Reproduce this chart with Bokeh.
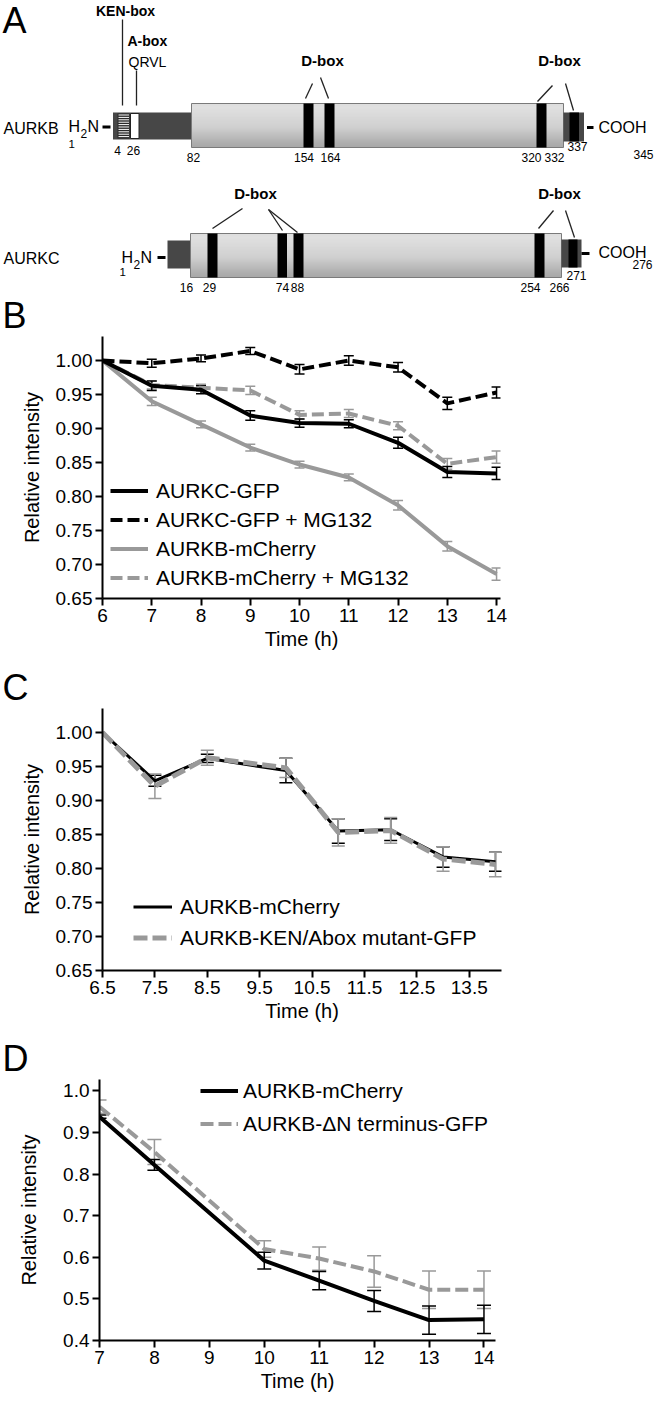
import numpy as np
from bokeh.plotting import figure
from bokeh.models import (Range1d, ColumnDataSource, Whisker, TeeHead, Legend, LegendItem,
                          FixedTicker, NumeralTickFormatter)
from bokeh.embed import file_html
from bokeh.resources import INLINE
from bokeh.core.properties import value

FONT = "Liberation Sans"
BLACK = "#000000"
GRAY = "#999999"
DARK = "#474747"
W = 654

# ======================= DATA =======================
# Panel A: domain maps
aurkb_name = "AURKB"
aurkc_name = "AURKC"
aurkb_residue_labels = ["4", "26", "82", "154", "164", "320", "332", "337", "345"]
aurkc_residue_labels = ["16", "29", "74", "88", "254", "266", "271", "276"]
motif_labels = ["KEN-box", "A-box", "QRVL", "D-box"]
panel_letters = ["A", "B", "C", "D"]

# Panel B
b_time = [6, 7, 8, 9, 10, 11, 12, 13, 14]
b_aurkc = [1.000, 0.963, 0.957, 0.919, 0.908, 0.907, 0.879, 0.836, 0.834]
b_aurkc_err = [0.0, 0.007, 0.006, 0.007, 0.006, 0.006, 0.008, 0.008, 0.009]
b_aurkc_mg = [1.000, 0.996, 1.003, 1.014, 0.987, 1.000, 0.990, 0.937, 0.953]
b_aurkc_mg_err = [0.0, 0.006, 0.005, 0.005, 0.007, 0.007, 0.007, 0.009, 0.008]
b_aurkb = [1.000, 0.940, 0.906, 0.872, 0.847, 0.828, 0.787, 0.727, 0.686]
b_aurkb_err = [0.0, 0.006, 0.005, 0.005, 0.005, 0.005, 0.007, 0.007, 0.009]
b_aurkb_mg = [1.000, 0.964, 0.960, 0.956, 0.920, 0.922, 0.904, 0.848, 0.858]
b_aurkb_mg_err = [0.0, 0.006, 0.005, 0.006, 0.006, 0.006, 0.006, 0.008, 0.009]
b_labels = ["AURKC-GFP", "AURKC-GFP + MG132", "AURKB-mCherry", "AURKB-mCherry + MG132"]
b_xticks = [6, 7, 8, 9, 10, 11, 12, 13, 14]
b_yticks = [0.65, 0.70, 0.75, 0.80, 0.85, 0.90, 0.95, 1.00]

# Panel C
c_time = [6.5, 7.5, 8.5, 10, 11, 12, 13, 14]
c_aurkb = [1.000, 0.929, 0.962, 0.944, 0.855, 0.857, 0.817, 0.810]
c_aurkb_err = [0.0, 0.008, 0.006, 0.018, 0.018, 0.016, 0.015, 0.014]
c_mut = [1.000, 0.921, 0.963, 0.948, 0.853, 0.856, 0.814, 0.806]
c_mut_err = [0.0, 0.018, 0.011, 0.014, 0.020, 0.019, 0.018, 0.018]
c_labels = ["AURKB-mCherry", "AURKB-KEN/Abox mutant-GFP"]
c_xticks = [6.5, 7.5, 8.5, 9.5, 10.5, 11.5, 12.5, 13.5]
c_yticks = [0.65, 0.70, 0.75, 0.80, 0.85, 0.90, 0.95, 1.00]

# Panel D
d_time = [7, 8, 10, 11, 12, 13, 14]
d_aurkb = [0.938, 0.822, 0.592, 0.544, 0.495, 0.449, 0.451]
d_aurkb_err = [0.004, 0.013, 0.020, 0.022, 0.025, 0.034, 0.034]
d_dn = [0.962, 0.853, 0.620, 0.597, 0.566, 0.522, 0.522]
d_dn_err = [0.016, 0.030, 0.020, 0.028, 0.038, 0.045, 0.045]
d_labels = ["AURKB-mCherry", "AURKB-\u0394N terminus-GFP"]
d_xticks = [7, 8, 9, 10, 11, 12, 13, 14]
d_yticks = [0.4, 0.5, 0.6, 0.7, 0.8, 0.9, 1.0]


# ======================= HELPERS =======================
def canvas(h):
    p = figure(width=W, height=h, x_range=Range1d(0, W), y_range=Range1d(h, 0),
               output_backend="svg", toolbar_location=None, min_border=0,
               x_axis_location=None, y_axis_location=None)
    p.grid.visible = False
    p.outline_line_color = None
    return p


def txt(p, xs, ys, texts, size, align="center", bold=False, baseline="middle"):
    p.text(x=xs, y=ys, text=texts, text_font=value(FONT), text_font_size=size,
           text_align=align, text_baseline=baseline, text_color=BLACK,
           text_font_style="bold" if bold else "normal")


# ======================= PANEL A (diagram, page-pixel layout) =======================
pa = canvas(336)


def quad(l, r, t, b, color, line_color=None, lw=1):
    pa.quad(left=[l], right=[r], top=[t], bottom=[b], fill_color=color,
            line_color=line_color, line_width=lw)


def cylinder(l, r, t, b):
    n = 44
    edges = np.linspace(t, b, n + 1)
    f = (np.arange(n) + 0.5) / n
    shade = np.interp(f, [0, 0.1, 0.55, 0.88, 1.0], [210, 214, 192, 150, 138])
    cols = ["#%02x%02x%02x" % (int(s), int(s), int(s)) for s in shade]
    pa.quad(left=l, right=r, top=edges[:-1], bottom=edges[1:], fill_color=cols, line_color=None)
    pa.quad(left=[l], right=[r], top=[t], bottom=[b], fill_color=None, line_color="#7a7a7a", line_width=1)


def seg(x0, y0, x1, y1, lw=1.3, color="#222222"):
    pa.segment(x0=x0, y0=y0, x1=x1, y1=y1, line_color=color, line_width=lw)


# panel letters A and B
txt(pa, [2], [20], [panel_letters[0]], "36px", align="left")
txt(pa, [2], [315], [panel_letters[1]], "36px", align="left")

# ---- AURKB row
txt(pa, [3], [128], [aurkb_name], "16px", align="left")
txt(pa, [68, 87], [126, 126], ["H", "N"], "16px", align="left")
txt(pa, [80], [133], ["2"], "12px", align="left")
txt(pa, [68], [143], ["1"], "11.5px", align="left")
seg([102], [126.5], [110], [126.5], lw=3, color=BLACK)
quad(112.5, 191, 112, 139, DARK)
quad(117, 129, 113, 138, "#2a2a2a")
ys = list(np.arange(114.5, 138, 2.4))
seg([118] * len(ys), ys, [128.5] * len(ys), ys, lw=1, color="white")
quad(130, 138.5, 113, 138, "white", line_color="#222222", lw=1)
cylinder(191, 563, 103, 147)
for l, r in [(303, 313), (324, 334), (536, 546)]:
    quad(l, r, 103, 147, BLACK)
quad(563, 583.5, 112, 141, DARK)
quad(569, 578.5, 112, 141, BLACK)
seg([586.5], [127], [593], [127], lw=3, color=BLACK)
txt(pa, [598], [127], ["COOH"], "16px", align="left")
txt(pa, [117, 133], [150, 150], aurkb_residue_labels[0:2], "12px")
txt(pa, [193, 303.5, 330, 531, 554], [157] * 5, aurkb_residue_labels[2:7], "12px")
txt(pa, [577], [146], [aurkb_residue_labels[7]], "12px")
txt(pa, [643], [154], [aurkb_residue_labels[8]], "12px")
# motifs
txt(pa, [125], [10], [motif_labels[0]], "14px", bold=True)
seg([122], [19], [122], [105])
txt(pa, [127], [40], [motif_labels[1]], "14px", align="left", bold=True)
txt(pa, [128], [61], [motif_labels[2]], "14px", align="left")
seg([136], [70], [136], [105])
txt(pa, [322, 559], [60, 60], [motif_labels[3]] * 2, "15px", bold=True)
seg([312, 320, 552, 565], [83, 77, 85, 83], [305, 328, 537, 573], [98, 98, 101, 110])

# ---- AURKC row
txt(pa, [3], [258], [aurkc_name], "16px", align="left")
txt(pa, [121, 140], [257, 257], ["H", "N"], "16px", align="left")
txt(pa, [133], [264], ["2"], "12px", align="left")
txt(pa, [119], [271], ["1"], "11.5px", align="left")
seg([157], [257], [165], [257], lw=3, color=BLACK)
quad(167, 190.5, 240, 268, DARK)
cylinder(190, 561, 233, 277)
for l, r in [(207, 217), (277, 286.5), (293, 303), (534, 544)]:
    quad(l, r, 233, 277, BLACK)
quad(561, 581, 239, 267, DARK)
quad(568, 577, 239, 267, BLACK)
seg([581], [253], [589], [253], lw=3, color=BLACK)
txt(pa, [598], [252], ["COOH"], "16px", align="left")
txt(pa, [186, 209, 282, 297, 530, 559], [287] * 6, aurkc_residue_labels[0:6], "12px")
txt(pa, [576], [275], [aurkc_residue_labels[6]], "12px")
txt(pa, [642], [264], [aurkc_residue_labels[7]], "12px")
txt(pa, [255, 559], [193, 193], [motif_labels[3]] * 2, "15px", bold=True)
seg([242, 268, 268, 553, 565], [208, 209, 209, 210, 210], [212, 282, 297, 538, 574], [228, 230, 232, 228, 237])


# ======================= CHART HELPERS =======================
def make_chart(height, xr, yr, borders, xticks, yticks, xfmt, yfmt, ylab_standoff):
    p = figure(width=W, height=height, x_range=Range1d(*xr), y_range=Range1d(*yr),
               output_backend="svg", toolbar_location=None,
               min_border_left=borders[0], min_border_right=borders[1],
               min_border_top=borders[2], min_border_bottom=borders[3])
    p.grid.visible = False
    p.outline_line_color = None
    for ax in (p.xaxis[0], p.yaxis[0]):
        ax.axis_line_width = 2
        ax.axis_line_color = BLACK
        ax.major_tick_line_width = 2
        ax.major_tick_line_color = BLACK
        ax.major_tick_in = 0
        ax.major_tick_out = 7
        ax.minor_tick_line_color = None
        ax.major_label_text_font = FONT
        ax.major_label_text_font_size = "19px"
        ax.major_label_text_color = BLACK
        ax.major_label_standoff = 3
        ax.axis_label_text_font = FONT
        ax.axis_label_text_font_size = "20px"
        ax.axis_label_text_font_style = "normal"
        ax.axis_label_text_color = BLACK
    p.xaxis.ticker = FixedTicker(ticks=xticks)
    p.yaxis.ticker = FixedTicker(ticks=yticks)
    p.xaxis.formatter = NumeralTickFormatter(format=xfmt)
    p.yaxis.formatter = NumeralTickFormatter(format=yfmt)
    p.xaxis.axis_label = "Time (h)"
    p.yaxis.axis_label = "Relative intensity"
    p.xaxis.axis_label_standoff = 3
    p.yaxis.axis_label_standoff = ylab_standoff
    return p


def errbars(p, x, y, e, color, size, lw=1.5):
    xs, lo, hi = [], [], []
    for xi, yi, ei in zip(x, y, e):
        if ei > 0:
            xs.append(xi)
            lo.append(yi - ei)
            hi.append(yi + ei)
    src = ColumnDataSource(dict(x=xs, lo=lo, hi=hi))
    w = Whisker(source=src, base="x", lower="lo", upper="hi", line_color=color, line_width=lw,
                upper_head=TeeHead(size=size, line_color=color, line_width=lw),
                lower_head=TeeHead(size=size, line_color=color, line_width=lw))
    p.add_layout(w)


def add_legend(p, items, loc, glyph_w, row_h, standoff):
    leg = Legend(items=[LegendItem(label=l, renderers=[r]) for l, r in items],
                 location=loc, padding=0, margin=0, spacing=0,
                 glyph_width=glyph_w, glyph_height=row_h, label_height=row_h,
                 label_standoff=standoff, label_text_font=FONT, label_text_font_size="21px",
                 label_text_color=BLACK, border_line_color=None, background_fill_alpha=0)
    p.add_layout(leg)


# ======================= PANEL B =======================
pb = make_chart(324, (6, 14.0353), (0.65, 1.0353), (102, 154, 0, 62),
                b_xticks, b_yticks, "0", "0.00", 10)
pb.x_range = Range1d(6, 14.08)
errbars(pb, b_time, b_aurkb, b_aurkb_err, GRAY, 10)
errbars(pb, b_time, b_aurkb_mg, b_aurkb_mg_err, GRAY, 10)
errbars(pb, b_time, b_aurkc, b_aurkc_err, BLACK, 10)
errbars(pb, b_time, b_aurkc_mg, b_aurkc_mg_err, BLACK, 10)
rb3 = pb.line(b_time, b_aurkb, line_color=GRAY, line_width=4)
rb4 = pb.line(b_time, b_aurkb_mg, line_color=GRAY, line_width=4, line_dash="12 5")
rb1 = pb.line(b_time, b_aurkc, line_color=BLACK, line_width=4)
rb2 = pb.line(b_time, b_aurkc_mg, line_color=BLACK, line_width=4, line_dash="12 5")
add_legend(pb, list(zip(b_labels, [rb1, rb2, rb3, rb4])), (8, 6), 38, 29, 8)

# ---- strip with letter C
sc = canvas(48)
txt(sc, [2], [27], [panel_letters[2]], "36px", align="left")

# ======================= PANEL C =======================
pc = make_chart(329, (6.5, 14.115), (0.65, 1.0353), (102, 153, 0, 67),
                c_xticks, c_yticks, "0.0", "0.00", 10)
errbars(pc, c_time, c_aurkb, c_aurkb_err, BLACK, 13)
errbars(pc, c_time, c_mut, c_mut_err, GRAY, 13)
rc1 = pc.line(c_time, c_aurkb, line_color=BLACK, line_width=3)
rc2 = pc.line(c_time, c_mut, line_color=GRAY, line_width=5, line_dash="14 5")
add_legend(pc, list(zip(c_labels, [rc1, rc2])), (31, 17), 39, 31, 8)

# ---- strip with letter D
sd = canvas(42)
txt(sd, [2], [21], [panel_letters[3]], "36px", align="left")

# ======================= PANEL D =======================
pd_ = make_chart(325, (7, 14.21), (0.4, 1.0274), (99, 159, 0, 64),
                 d_xticks, d_yticks, "0", "0.0", 20)
errbars(pd_, d_time, d_dn, d_dn_err, GRAY, 14)
errbars(pd_, d_time, d_aurkb, d_aurkb_err, BLACK, 14)
rd2 = pd_.line(d_time, d_dn, line_color=GRAY, line_width=4, line_dash="13 5")
rd1 = pd_.line(d_time, d_aurkb, line_color=BLACK, line_width=4)
add_legend(pd_, list(zip(d_labels, [rd1, rd2])), (101, 200), 38, 33, 5)

open("out.html", "w").write(file_html([pa, pb, sc, pc, sd, pd_], INLINE))
